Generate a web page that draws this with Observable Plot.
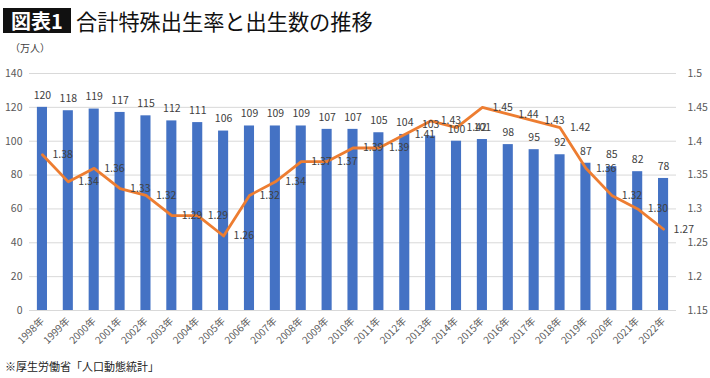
<!DOCTYPE html>
<html><head><meta charset="utf-8">
<script src="https://cdn.jsdelivr.net/npm/d3@7"></script>
<script src="https://cdn.jsdelivr.net/npm/@observablehq/plot@0.6"></script>
<style>
html,body{margin:0;padding:0;background:#fff;}
#wrap{width:710px;height:378px;position:relative;overflow:hidden;font-family:"Noto Sans CJK JP","Noto Sans",sans-serif;}
#head{position:relative;height:56px;}
#badge{position:absolute;left:3px;top:8px;width:68px;height:25px;background:#111;color:#fff;font-size:20px;font-weight:bold;line-height:25px;text-align:center;}
#title{position:absolute;left:76px;top:8px;font-size:21.2px;line-height:26px;color:#111;white-space:nowrap;}
#unit{position:absolute;left:10px;top:41px;font-size:10px;line-height:14px;color:#404040;}
#chart{height:302px;}
#foot{position:absolute;left:5px;top:358px;font-size:11px;line-height:16px;color:#222;white-space:nowrap;}
</style></head>
<body>
<div id="wrap">
  <div id="head">
    <div id="badge">図表1</div>
    <div id="title">合計特殊出生率と出生数の推移</div>
    <div id="unit">（万人）</div>
  </div>
  <div id="chart"></div>
  <div id="foot">※厚生労働省「人口動態統計」</div>
</div>
<script>
const years = ["1998年","1999年","2000年","2001年","2002年","2003年","2004年","2005年","2006年","2007年","2008年","2009年","2010年","2011年","2012年","2013年","2014年","2015年","2016年","2017年","2018年","2019年","2020年","2021年","2022年"];
const births = [120,118,119,117,115,112,111,106,109,109,109,107,107,105,104,103,100,101,98,95,92,87,85,82,78];
const rates = [1.38,1.34,1.36,1.33,1.32,1.29,1.29,1.26,1.32,1.34,1.37,1.37,1.39,1.39,1.41,1.43,1.42,1.45,1.44,1.43,1.42,1.36,1.32,1.30,1.27];
const leftTicks = [0,20,40,60,80,100,120,140];
const rightTicks = [1.15,1.2,1.25,1.3,1.35,1.4,1.45,1.5];

// map the right-hand (rate) axis onto the left-hand (births) scale
const rMin = 1.15, rMax = 1.5, yMax = 140;
const toY = r => (r - rMin) / (rMax - rMin) * yMax;
const fromY = v => rMin + v / yMax * (rMax - rMin);

const data = years.map((y, i) => ({year: y, births: births[i], rate: rates[i], rateY: toY(rates[i])}));

const font = '"Noto Sans CJK JP","Noto Sans",sans-serif';
const chart = Plot.plot({
  width: 710,
  height: 302,
  marginTop: 17,
  marginBottom: 48,
  marginLeft: 29,
  marginRight: 34,
  style: {fontFamily: font, fontSize: "10px", color: "#595959", background: "#fff"},
  x: {domain: years, paddingInner: 0.61, paddingOuter: 0.305, align: 0.5, round: false},
  y: {domain: [0, yMax]},
  marks: [
    Plot.gridY(leftTicks.filter(d => d > 0), {stroke: "#d9d9d9", strokeOpacity: 1, strokeWidth: 1}),
    Plot.ruleY([0], {stroke: "#d9d9d9", strokeWidth: 1}),
    Plot.barY(data, {x: "year", y: "births", fill: "#4472C4"}),
    Plot.line(data, {x: "year", y: "rateY", stroke: "#ED7D31", strokeWidth: 2.8, strokeLinejoin: "round"}),
    Plot.text(data, {x: "year", y: "births", text: d => String(d.births), dy: -12, fill: "#404040", fontSize: 10.5}),
    Plot.text(data, {x: "year", y: "rateY", text: d => d.rate.toFixed(2), textAnchor: "start", dx: 10, fill: "#404040", fontSize: 10.5}),
    Plot.axisY(leftTicks, {anchor: "left", tickSize: 0, tickPadding: 7, label: null, fontSize: 10.5, fill: "#595959"}),
    Plot.axisY(rightTicks.map(toY), {anchor: "right", tickSize: 0, tickPadding: 11, label: null, tickFormat: v => d3.format("")(+fromY(v).toFixed(2)), fontSize: 10.5, fill: "#595959"}),
    Plot.axisX({tickRotate: -45, tickSize: 0, tickPadding: 9, label: null, fontSize: 10, fill: "#595959"})
  ]
});
document.getElementById("chart").appendChild(chart);
</script>
</body></html>
